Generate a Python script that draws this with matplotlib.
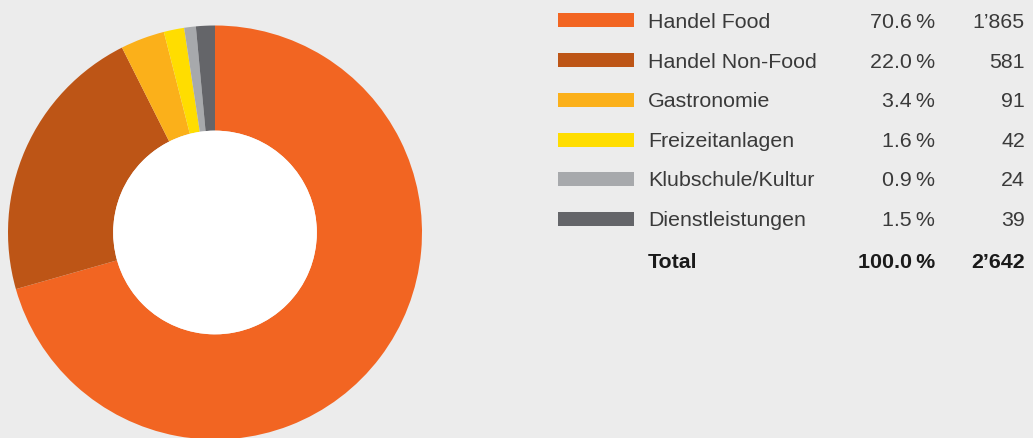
import matplotlib.pyplot as plt

# data
labels = ['Handel Food', 'Handel Non-Food', 'Gastronomie', 'Freizeitanlagen',
          'Klubschule/Kultur', 'Dienstleistungen']
values = [1865, 581, 91, 42, 24, 39]
pcts = [70.6, 22.0, 3.4, 1.6, 0.9, 1.5]
colors = ['#f26522', '#bd5516', '#fbb01a', '#ffdd00', '#a7a9ac', '#646569']

bg = '#ececec'
txt = '#3a3a3a'
plt.rcParams['font.family'] = ['Liberation Sans', 'DejaVu Sans']

def fmt(n):
    return f'{n:,}'.replace(',', '\u2019')

fig = plt.figure(figsize=(10.33, 4.39), dpi=100)
fig.patch.set_facecolor(bg)

# donut
W, H = 1033, 439
cx, cy, r = 215, 233.5, 207
ax = fig.add_axes([(cx - r) / W, (H - cy - r) / H, 2 * r / W, 2 * r / H])
ax.set_facecolor(bg)
ax.pie(values, colors=colors, startangle=90, counterclock=False, radius=1,
       wedgeprops=dict(width=0.508, linewidth=0))
ax.add_patch(plt.Circle((0, 0), 0.492, color='white', lw=0))
ax.set_xlim(-1, 1)
ax.set_ylim(-1, 1)
ax.set_aspect('equal')
ax.axis('off')

# legend table (pixel coordinates)
lx = fig.add_axes([0, 0, 1, 1])
lx.set_xlim(0, W)
lx.set_ylim(H, 0)
lx.axis('off')
lx.patch.set_alpha(0)

row_y = [21, 61, 101, 141, 180, 220]
fs = 15.4
for i, lab in enumerate(labels):
    y = row_y[i]
    lx.add_patch(plt.Rectangle((558, y - 7), 76, 14, color=colors[i], lw=0))
    lx.text(648, y + 1, lab, fontsize=fs, color=txt, va='center', ha='left')
    lx.text(935, y + 1, f'{pcts[i]:.1f}\u2009%', fontsize=fs, color=txt, va='center', ha='right')
    lx.text(1025, y + 1, fmt(values[i]), fontsize=fs, color=txt, va='center', ha='right')

ty = 263
lx.text(648, ty, 'Total', fontsize=fs, color='#1a1a1a', va='center', ha='left', fontweight='bold')
lx.text(935, ty, f'{100.0:.1f}\u2009%', fontsize=fs, color='#1a1a1a', va='center', ha='right', fontweight='bold')
lx.text(1025, ty, fmt(sum(values)), fontsize=fs, color='#1a1a1a', va='center', ha='right', fontweight='bold')

fig.savefig('out.png', dpi=100, facecolor=bg)
